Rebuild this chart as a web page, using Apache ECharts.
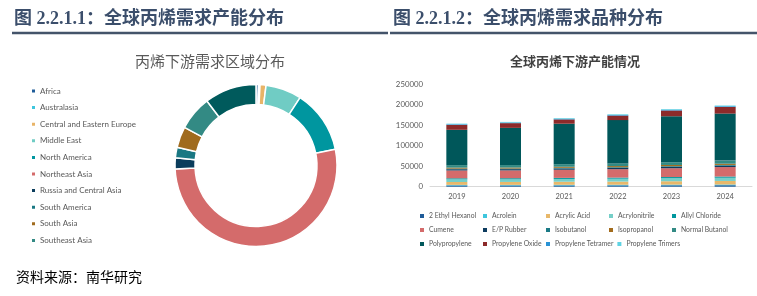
<!DOCTYPE html>
<html><head><meta charset="utf-8">
<script src="https://cdn.jsdelivr.net/npm/echarts@6/dist/echarts.min.js"></script>
<style>html,body{margin:0;padding:0;background:#fff}#c{width:757px;height:296px}</style>
</head><body><div id="c"></div>
<script>
// ---- Donut data (share of global downstream propylene demand, %) ----
const regionNames = ['Africa','Australasia','Central and Eastern Europe','Middle East','North America','Northeast Asia','Russia and Central Asia','South America','South Asia','Southeast Asia','Western Europe'];
const regionValues = [0.5, 0.3, 1.2, 7.2, 12.7, 52.8, 2.2, 2.1, 4.2, 6.9, 10.4];
const regionLegend = regionNames.slice(0, 10);

// ---- Stacked bar data (downstream capacity) ----
const years = ['2019','2020','2021','2022','2023','2024'];
const yTicks = [0, 50000, 100000, 150000, 200000, 250000];
const ethylHexanol   = [3000, 3000, 3100, 3200, 3400, 3600];
const acrolein       = [1500, 1500, 1600, 1600, 1700, 1800];
const acrylicAcid    = [7000, 7100, 7400, 7700, 8200, 8600];
const acrylonitrile  = [6500, 6600, 6800, 7000, 7400, 7800];
const allylChloride  = [2500, 2500, 2600, 2700, 2800, 3000];
const cumene         = [19000, 19000, 19800, 20500, 21500, 23000];
const epRubber       = [3000, 3000, 3100, 3200, 3300, 3400];
const isobutanol     = [1500, 1500, 1600, 1600, 1700, 1800];
const isopropanol    = [2500, 2500, 2600, 2700, 2900, 3000];
const normalButanol  = [6000, 6000, 6200, 6400, 6600, 7500];
const polypropylene  = [86000, 90500, 98500, 105500, 112000, 114500];
const propyleneOxide = [12000, 11500, 10500, 11000, 14000, 16000];
const propTetramer   = [1500, 1500, 1600, 1600, 1700, 1800];
const propTrimers    = [1500, 1500, 1600, 1600, 1700, 1800];

const barSeriesDefs = [
  ['2 Ethyl Hexanol', ethylHexanol, '#1f5c99'],
  ['Acrolein', acrolein, '#3ec6dd'],
  ['Acrylic Acid', acrylicAcid, '#e8b86a'],
  ['Acrylonitrile', acrylonitrile, '#76cfc8'],
  ['Allyl Chloride', allylChloride, '#00979e'],
  ['Cumene', cumene, '#d46b6b'],
  ['E/P Rubber', epRubber, '#0d3b5e'],
  ['Isobutanol', isobutanol, '#1b7a86'],
  ['Isopropanol', isopropanol, '#a36c1d'],
  ['Normal Butanol', normalButanol, '#328a84'],
  ['Polypropylene', polypropylene, '#00575a'],
  ['Propylene Oxide', propyleneOxide, '#8c2a2a'],
  ['Propylene Tetramer', propTetramer, '#2a93d5'],
  ['Propylene Trimers', propTrimers, '#5fd3e3']
];
const regionColors = ['#1f5c99','#3ec6dd','#e8b468','#70ccc4','#00969f','#d46b6b','#0b3d5c','#1a7883','#a06b1e','#338a84','#005a5c'];

const chart = echarts.init(document.getElementById('c'));
const headFont = '"Liberation Serif","Noto Sans CJK SC",serif';
const latin = 'Lato,"Noto Sans",sans-serif';
const cjk = '"Noto Sans CJK SC",sans-serif';

const option = {
  animation: false,
  backgroundColor: '#fff',
  title: [
    {text: '图 2.2.1.1：全球丙烯需求产能分布', left: 14, top: 10, padding: 0,
     textStyle: {fontFamily: headFont, fontSize: 18, fontWeight: 'bold', color: '#3b4e6b'}},
    {text: '图 2.2.1.2：全球丙烯需求品种分布', left: 393, top: 10, padding: 0,
     textStyle: {fontFamily: headFont, fontSize: 18, fontWeight: 'bold', color: '#3b4e6b'}},
    {text: '丙烯下游需求区域分布', left: 210, top: 54, padding: 0, textAlign: 'center',
     textStyle: {fontFamily: cjk, fontSize: 15, fontWeight: 'normal', color: '#595959'}},
    {text: '全球丙烯下游产能情况', left: 575, top: 55, padding: 0, textAlign: 'center',
     textStyle: {fontFamily: cjk, fontSize: 13, fontWeight: 'bold', color: '#404040'}},
    {text: '资料来源：南华研究', left: 16, top: 270, padding: 0,
     textStyle: {fontFamily: cjk, fontSize: 14, fontWeight: 'normal', color: '#000'}}
  ],
  graphic: [
    {type: 'line', shape: {x1: 12, y1: 33, x2: 388, y2: 33}, style: {stroke: '#44546a', lineWidth: 2.5}},
    {type: 'line', shape: {x1: 390, y1: 33, x2: 757, y2: 33}, style: {stroke: '#44546a', lineWidth: 2.5}}
  ],
  legend: [
    {data: regionLegend, orient: 'vertical', left: 30, top: 86, padding: 0,
     itemWidth: 5, itemHeight: 5, itemGap: 6.6, icon: 'rect',
     textStyle: {fontFamily: latin, fontSize: 8, color: '#595959', lineHeight: 10, padding: [0,0,0,-1]}},
    {data: barSeriesDefs.map(d => d[0]), orient: 'horizontal', left: 420, top: 211, width: 330, padding: 0,
     itemWidth: 4, itemHeight: 4, itemGap: 4, icon: 'rect',
     textStyle: {fontFamily: latin, fontSize: 6.8, color: '#595959', lineHeight: 10, width: 50}}
  ],
  grid: {left: 430, right: 5, top: 84, bottom: 296 - 186.7},
  xAxis: {type: 'category', data: years,
    axisLine: {lineStyle: {color: '#d9d9d9', width: 1}}, axisTick: {show: false},
    axisLabel: {fontFamily: latin, fontSize: 7.5, color: '#595959', margin: 6}},
  yAxis: {type: 'value', min: yTicks[0], max: yTicks[yTicks.length - 1], interval: yTicks[1] - yTicks[0],
    splitLine: {show: false}, axisLine: {show: false}, axisTick: {show: false},
    axisLabel: {fontFamily: latin, fontSize: 7.8, color: '#595959', margin: 7, formatter: v => String(v)}},
  series: [
    {type: 'pie', center: [256, 165.5], radius: [61, 81], startAngle: 90, clockwise: true,
     label: {show: false}, labelLine: {show: false}, silent: true,
     itemStyle: {borderColor: '#fff', borderWidth: 1.5},
     data: regionNames.map((n, i) => ({name: n, value: regionValues[i], itemStyle: {color: regionColors[i]}}))}
  ].concat(barSeriesDefs.map(d => ({
     type: 'bar', name: d[0], data: d[1], stack: 'cap', barWidth: 21, silent: true,
     itemStyle: {color: d[2]}
  })))
};
chart.setOption(option);
</script></body></html>
